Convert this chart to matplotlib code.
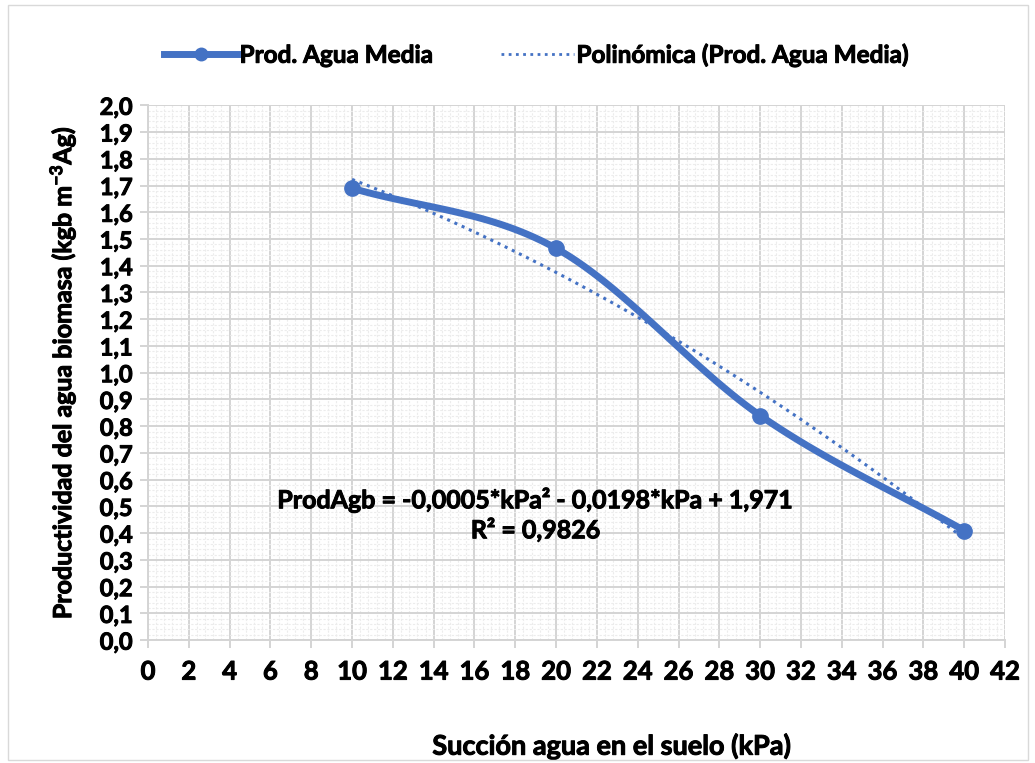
import numpy as np
import matplotlib
matplotlib.use("Agg")
import matplotlib.pyplot as plt
import matplotlib.patheffects as pe
from matplotlib.ticker import MultipleLocator
from matplotlib.lines import Line2D
from matplotlib.patches import Rectangle

# water suction (kPa) vs mean biomass water productivity
kpa = [10, 20, 30, 40]
prod_media = [1.69, 1.465, 0.84, 0.41]
# quadratic trend reported by the spreadsheet fit
poly_coef = [-0.0005, -0.0198, 1.971]
r2 = 0.9826
x_ticks = list(range(0, 43, 2))
y_ticks = [i / 10 for i in range(0, 21)]

BLUE = "#4472C4"
plt.rcParams["font.family"] = ["Lato", "DejaVu Sans"]
plt.rcParams["font.weight"] = "bold"
plt.rcParams["axes.labelweight"] = "bold"
plt.rcParams["mathtext.fontset"] = "custom"
plt.rcParams["mathtext.rm"] = "Lato:bold"
plt.rcParams["mathtext.it"] = "Lato:bold"
plt.rcParams["mathtext.bf"] = "Lato:bold"
# slightly heavier strokes on the text
HEAVY = [pe.withStroke(linewidth=0.7, foreground="black")]


def smooth(x, y, n=40):
    """Catmull-Rom curve through the points, like a smoothed chart line."""
    x = np.asarray(x, float); y = np.asarray(y, float)
    px = np.r_[2 * x[0] - x[1], x, 2 * x[-1] - x[-2]]
    py = np.r_[2 * y[0] - y[1], y, 2 * y[-1] - y[-2]]
    xs, ys = [], []
    t = np.linspace(0, 1, n)
    for i in range(1, len(px) - 2):
        for p, out in ((px, xs), (py, ys)):
            p0, p1, p2, p3 = p[i - 1], p[i], p[i + 1], p[i + 2]
            out.append(0.5 * (2 * p1 + (-p0 + p2) * t
                              + (2 * p0 - 5 * p1 + 4 * p2 - p3) * t ** 2
                              + (-p0 + 3 * p1 - 3 * p2 + p3) * t ** 3))
    return np.concatenate(xs), np.concatenate(ys)


fig = plt.figure(figsize=(10.35, 7.63), dpi=100)
fig.patches.append(Rectangle((0.008, 0.004), 0.985, 0.99, transform=fig.transFigure,
                             fill=False, edgecolor="#d9d9d9", linewidth=1))
ax = fig.add_axes([0.143, 0.161, 0.828, 0.701])

sx, sy = smooth(kpa, prod_media)
ax.plot(sx, sy, color=BLUE, linewidth=5, solid_capstyle="round", zorder=3)
ax.plot(kpa, prod_media, "o", color=BLUE, markersize=11, zorder=4)

tx = np.linspace(kpa[0], kpa[-1], 200)
ax.plot(tx, np.polyval(poly_coef, tx), color=BLUE, linestyle=(0, (1, 1.6)),
        linewidth=2.2, zorder=5)

ax.set_xlim(0, 42)
ax.set_ylim(0, 2.0)
ax.set_xticks(x_ticks, [str(v) for v in x_ticks], fontsize=18.5, fontweight="bold")
ax.set_yticks(y_ticks, [f"{v:.1f}".replace(".", ",") for v in y_ticks],
              fontsize=17, fontweight="bold")
ax.xaxis.set_minor_locator(MultipleLocator(0.4))
ax.yaxis.set_minor_locator(MultipleLocator(0.02))
ax.grid(which="major", color="#d4d4d4", linewidth=1.4)
ax.grid(which="minor", color="#ececec", linewidth=0.8, linestyle=(0, (2, 1.5)))
ax.set_axisbelow(True)
for side in ("top", "right"):
    ax.spines[side].set_visible(False)
for side in ("left", "bottom"):
    ax.spines[side].set_color("#d4d4d4")
    ax.spines[side].set_linewidth(1.4)
ax.tick_params(which="major", length=6, width=1.4, color="#d4d4d4", direction="out")
ax.tick_params(which="minor", length=0)
ax.tick_params(axis="x", pad=8)
ax.tick_params(axis="y", pad=5)
for lbl in ax.get_xticklabels() + ax.get_yticklabels():
    lbl.set_path_effects(HEAVY)

ax.set_xlabel("Succión agua en el suelo (kPa)", fontsize=19.5, labelpad=36,
              path_effects=HEAVY)
ax.xaxis.label.set_x(0.541)
ax.set_ylabel("Productividad del agua biomasa (kgb m$^{-3}$Ag)", fontsize=18, labelpad=16,
              path_effects=HEAVY)

ax.text(19.0, 0.523, "ProdAgb = -0,0005*kPa² - 0,0198*kPa + 1,971",
        fontsize=18, ha="center", va="center", zorder=6, path_effects=HEAVY)
ax.text(19.0, 0.41, f"R² = {r2:.4f}".replace(".", ","),
        fontsize=18, ha="center", va="center", zorder=6, path_effects=HEAVY)

handles = [Line2D([], [], color=BLUE, linewidth=5, marker="o", markersize=9),
           Line2D([], [], color=BLUE, linewidth=2, linestyle=(0, (1, 1.6)))]
leg = fig.legend(handles, ["Prod. Agua Media", "Polinómica (Prod. Agua Media)"],
                 loc="center", bbox_to_anchor=(0.518, 0.928), ncol=2, frameon=False,
                 prop={"size": 17.5, "weight": "bold"}, handlelength=3.0,
                 columnspacing=2.8, handletextpad=0.1)
for t in leg.get_texts():
    t.set_path_effects(HEAVY)

fig.savefig("out.png", dpi=100)
